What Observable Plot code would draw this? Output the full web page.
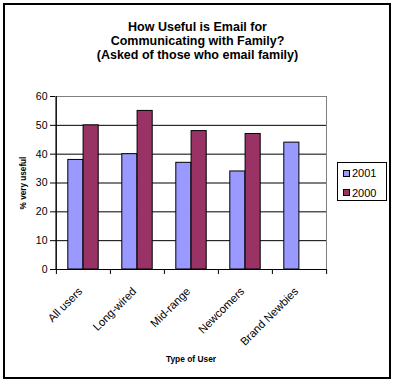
<!DOCTYPE html>
<html>
<head>
<meta charset="utf-8">
<script src="https://cdn.jsdelivr.net/npm/d3@7"></script>
<script src="https://cdn.jsdelivr.net/npm/@observablehq/plot@0.6"></script>
<style>
  html, body { margin: 0; padding: 0; background: #fff; }
  body { font-family: "Liberation Sans", Arial, sans-serif; }
  #wrap { position: relative; width: 394px; height: 385px; overflow: hidden; background: #fff; }
  #wrap svg { position: absolute; left: 0; top: 0; }
  #border { position: absolute; left: 3px; top: 3px; width: 388px; height: 376px; border: 2px solid #000; box-sizing: border-box; pointer-events: none; }
  #legend { position: absolute; left: 337px; top: 162px; width: 50px; height: 39px; border: 1px solid #000; box-sizing: border-box; background: #fff; font-size: 11px; color: #000; }
  .lrow { position: absolute; left: 5px; height: 12px; display: flex; align-items: center; }
  .lsw { width: 7px; height: 7px; border: 1px solid #000; box-sizing: border-box; margin-right: 2px; }
</style>
</head>
<body>
<div id="wrap"><div id="border"></div></div>
<script>
const categories = ["All users", "Long-wired", "Mid-range", "Newcomers", "Brand Newbies"];
const series = ["2001", "2000"];
const values2001 = [38, 40, 37, 34, 44];
const values2000 = [50, 55, 48, 47, null];
const colors = ["#9999FF", "#993366"];
const yTicks = [0, 10, 20, 30, 40, 50, 60];
const gridTicks = [10, 20, 30, 40, 50];
const titleLines = ["How Useful is Email for", "Communicating with Family?", "(Asked of those who email family)"];
const yLabel = "% very useful";
const xLabel = "Type of User";

const W = 394, H = 385;
const mL = 55, mR = 68, mT = 96, mB = 116;
const bw = (W - mL - mR) / categories.length;
const half = bw / 2;
const barW = 15.3;

const d2001 = categories.map((c, i) => ({category: c, value: values2001[i]})).filter(d => d.value != null);
const d2000 = categories.map((c, i) => ({category: c, value: values2000[i]})).filter(d => d.value != null);

const font = "Liberation Sans, Arial, sans-serif";

const chart = Plot.plot({
  width: W, height: H,
  marginLeft: mL, marginRight: mR, marginTop: mT, marginBottom: mB,
  style: {fontFamily: font, background: "transparent", overflow: "visible"},
  x: {domain: categories, padding: 0},
  y: {domain: [0, 60]},
  marks: [
    Plot.frame({stroke: "#808080", strokeWidth: 1}),
    Plot.ruleY(gridTicks, {stroke: "#000", strokeWidth: 1}),
    Plot.barY(d2001, {x: "category", y: "value", fill: colors[0], stroke: "#000", strokeWidth: 1,
      insetLeft: half - barW, insetRight: half}),
    Plot.barY(d2000, {x: "category", y: "value", fill: colors[1], stroke: "#000", strokeWidth: 1,
      insetLeft: half, insetRight: half - barW}),
    Plot.ruleY([0], {stroke: "#000", strokeWidth: 1}),
    Plot.ruleX([categories[0]], {dx: -half, y1: 0, y2: 60, stroke: "#000", strokeWidth: 1}),
    Plot.axisY(yTicks, {tickSize: 5, tickPadding: 3, fontSize: 10.5, label: null, stroke: "#000", fill: "#000"}),
    Plot.axisX(categories, {tickSize: 5, dx: -half, tickFormat: () => "", label: null, stroke: "#000"}),
    Plot.axisX([categories[categories.length - 1]], {tickSize: 5, dx: half, tickFormat: () => "", label: null, stroke: "#000"}),
    Plot.axisX(categories, {tickSize: 0, tickPadding: 20, dx: -3, tickRotate: -45, fontSize: 11.3, label: null, fill: "#000"}),
    Plot.text([titleLines.join("\n")], {frameAnchor: "top", lineAnchor: "top", dx: 6.5, dy: -75.5,
      fontSize: 12.5, fontWeight: "bold", lineHeight: 1.12, fill: "#000"}),
    Plot.text([yLabel], {frameAnchor: "left", dx: -32.3, rotate: -90, textAnchor: "middle", lineAnchor: "middle",
      fontSize: 8.2, fontWeight: "bold", fill: "#000"}),
    Plot.text([xLabel], {frameAnchor: "bottom", dy: 90, textAnchor: "middle", lineAnchor: "middle",
      fontSize: 8.4, fontWeight: "bold", fill: "#000"})
  ]
});

const wrap = document.getElementById("wrap");
wrap.insertBefore(chart, wrap.firstChild);

const legend = document.createElement("div");
legend.id = "legend";
series.forEach((s, i) => {
  const row = document.createElement("div");
  row.className = "lrow";
  row.style.top = (4 + i * 19.5) + "px";
  const sw = document.createElement("div");
  sw.className = "lsw";
  sw.style.background = colors[i];
  const tx = document.createElement("span");
  tx.textContent = s;
  row.appendChild(sw);
  row.appendChild(tx);
  legend.appendChild(row);
});
wrap.appendChild(legend);
</script>
</body>
</html>
